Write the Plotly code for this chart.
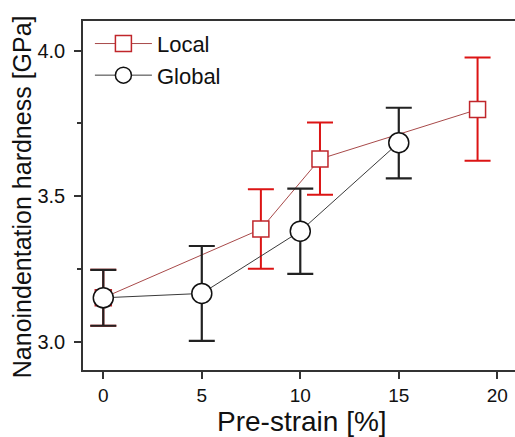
import plotly.graph_objects as go

# Pre-strain levels [%] and nanoindentation hardness [GPa]
local_x = [0, 8, 11, 19]
local_y = [3.151, 3.387, 3.628, 3.798]
local_err_plus = [0.096, 0.137, 0.125, 0.179]
local_err_minus = [0.096, 0.136, 0.123, 0.176]

global_x = [0, 5, 10, 15]
global_y = [3.151, 3.166, 3.380, 3.684]
global_err_plus = [0.096, 0.163, 0.146, 0.120]
global_err_minus = [0.096, 0.163, 0.147, 0.123]

x_ticks = [0, 5, 10, 15, 20]
y_ticks = [3.0, 3.5, 4.0]

FONT = "Arial, 'Liberation Sans', sans-serif"

fig = go.Figure()

fig.add_trace(go.Scatter(
    x=local_x, y=local_y, name="Local", mode="lines+markers",
    line=dict(color="#a84a4a", width=1),
    marker=dict(symbol="square", size=16, color="white",
                line=dict(color="#c0262b", width=1.5)),
    error_y=dict(type="data", symmetric=False, array=local_err_plus,
                 arrayminus=local_err_minus, color="#dc1414",
                 thickness=2, width=13),
))

fig.add_trace(go.Scatter(
    x=global_x, y=global_y, name="Global", mode="lines+markers",
    line=dict(color="#3a3a3a", width=1),
    marker=dict(symbol="circle", size=20, color="white",
                line=dict(color="#111111", width=1.5)),
    error_y=dict(type="data", symmetric=False, array=global_err_plus,
                 arrayminus=global_err_minus, color="#222222",
                 thickness=2.2, width=13),
))

fig.update_layout(
    width=515, height=437,
    margin=dict(l=83, r=0, t=21, b=67),
    paper_bgcolor="white", plot_bgcolor="white",
    font=dict(family=FONT, color="#111111"),
    showlegend=True,
    legend=dict(x=0.016, y=0.995, xanchor="left", yanchor="top",
                bgcolor="rgba(0,0,0,0)", font=dict(size=22, family=FONT),
                tracegroupgap=0, itemsizing="trace", itemwidth=57),
    annotations=[
        dict(text="Pre-strain [%]", xref="paper", yref="paper",
             x=0.507, y=-0.147, xanchor="center", yanchor="middle",
             showarrow=False, font=dict(size=28, family=FONT, color="#111111")),
        dict(text="Nanoindentation hardness [GPa]", xref="paper", yref="paper",
             x=-0.142, y=0.497, xanchor="center", yanchor="middle", textangle=-90,
             showarrow=False, font=dict(size=25, family=FONT, color="#111111")),
    ],
)

fig.update_xaxes(
    range=[-1.03, 20.9], tickvals=x_ticks, ticktext=[str(v) for v in x_ticks],
    showgrid=False, zeroline=False, showline=True, linecolor="#333333",
    linewidth=1.5, mirror=True, ticks="outside", ticklen=7, tickwidth=1.5,
    tickcolor="#333333", tickfont=dict(size=19, family=FONT),
)

fig.update_yaxes(
    range=[2.903, 4.102], tickvals=y_ticks, ticktext=[f"{v:.1f}" for v in y_ticks],
    showgrid=False, zeroline=False, showline=True, linecolor="#333333",
    linewidth=1.5, mirror=False, ticks="outside", ticklen=7, tickwidth=1.5,
    tickcolor="#333333", tickfont=dict(size=20, family=FONT),
    ticklabelstandoff=5,
    minor=dict(tickvals=[3.25, 3.75], ticks="outside", ticklen=4,
               tickwidth=1.5, tickcolor="#333333"),
)

fig.write_html("out.html")
